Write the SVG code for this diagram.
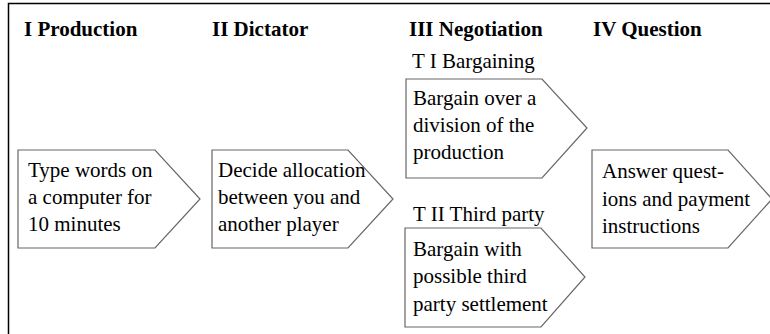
<svg xmlns="http://www.w3.org/2000/svg" width="770" height="334" viewBox="0 0 770 334">
<style>
.h{font-family:"Liberation Serif","Times New Roman",serif;font-weight:bold;font-size:21px;fill:#000}
.t{font-family:"Liberation Serif","Times New Roman",serif;font-size:21px;fill:#000}
.s{fill:#fff;stroke:#666;stroke-width:1.2}
</style>
<rect x="0" y="0" width="770" height="334" fill="#fff"/>
<rect x="8.5" y="3.5" width="800" height="400" fill="none" stroke="#000" stroke-width="1.5"/>
<g id="headings">
<text class="h" x="24" y="36">I Production</text>
<text class="h" x="212" y="36">II Dictator</text>
<text class="h" x="409" y="36">III Negotiation</text>
<text class="h" x="593" y="36">IV Question</text>
<text class="t" x="412" y="68">T I Bargaining</text>
<text class="t" x="413" y="221">T II Third party</text>
</g>
<g id="connectors"></g>
<g id="production">
<polygon class="s" points="18,150 155,150 200,199 155,248 18,248"/>
<text class="t" x="28" y="177">Type words on</text>
<text class="t" x="28" y="204">a computer for</text>
<text class="t" x="28" y="231">10 minutes</text>
</g>
<g id="dictator">
<polygon class="s" points="212,150 348,150 393,199 348,248 212,248"/>
<text class="t" x="218" y="177">Decide allocation</text>
<text class="t" x="218" y="204">between you and</text>
<text class="t" x="218" y="231">another player</text>
</g>
<g id="bargaining">
<polygon class="s" points="406,79 542,79 587,128 542,178 406,178"/>
<text class="t" x="413" y="105">Bargain over a</text>
<text class="t" x="413" y="132">division of the</text>
<text class="t" x="413" y="159">production</text>
</g>
<g id="thirdparty">
<polygon class="s" points="405,228 541,228 585,277 541,327 405,327"/>
<text class="t" x="413" y="256">Bargain with</text>
<text class="t" x="413" y="283">possible third</text>
<text class="t" x="413" y="311">party settlement</text>
</g>
<g id="question">
<polygon class="s" points="592,150 728,150 772,199 728,248 592,248"/>
<text class="t" x="602" y="178">Answer quest-</text>
<text class="t" x="602" y="206">ions and payment</text>
<text class="t" x="602" y="233">instructions</text>
</g>
</svg>
